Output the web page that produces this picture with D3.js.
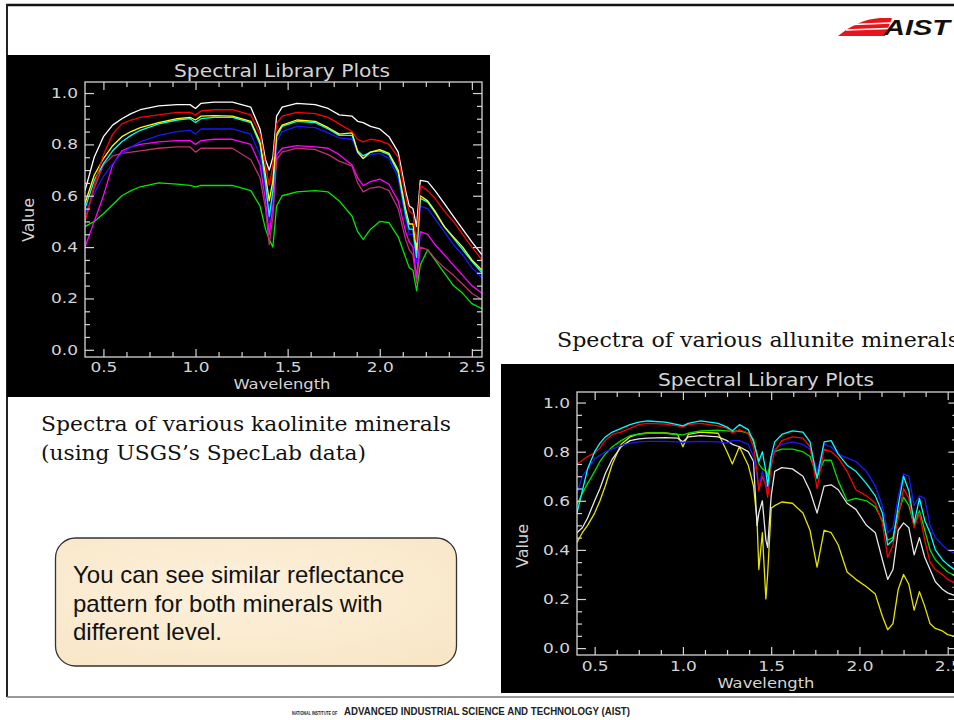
<!DOCTYPE html>
<html>
<head>
<meta charset="utf-8">
<script src="https://cdn.jsdelivr.net/npm/d3@7"></script>
<style>
  html, body { margin: 0; padding: 0; background: #fff; }
  svg { display: block; }
</style>
</head>
<body>
<svg id="slide" width="954" height="720"></svg>
<script>
// ---------- Kaolinite spectra (USGS SpecLab) ----------
const kaoliniteWavelength = [0.40, 0.45, 0.50, 0.55, 0.60, 0.65, 0.70, 0.80, 0.90, 0.97, 1.00, 1.03, 1.10, 1.20, 1.30, 1.35, 1.38, 1.40, 1.42, 1.44, 1.47, 1.55, 1.65, 1.72, 1.78, 1.85, 1.88, 1.91, 1.95, 2.00, 2.05, 2.10, 2.14, 2.16, 2.18, 2.20, 2.22, 2.26, 2.30, 2.35, 2.40, 2.45, 2.50, 2.555];
const kaoliniteWhite   = [0.62, 0.75, 0.83, 0.875, 0.90, 0.92, 0.935, 0.95, 0.955, 0.955, 0.94, 0.96, 0.965, 0.965, 0.945, 0.86, 0.74, 0.70, 0.75, 0.91, 0.945, 0.96, 0.955, 0.94, 0.915, 0.91, 0.89, 0.885, 0.87, 0.86, 0.83, 0.77, 0.62, 0.56, 0.55, 0.48, 0.66, 0.655, 0.62, 0.57, 0.52, 0.47, 0.42, 0.37];
const kaoliniteRed     = [0.50, 0.64, 0.76, 0.84, 0.88, 0.895, 0.905, 0.915, 0.925, 0.925, 0.915, 0.93, 0.935, 0.935, 0.915, 0.84, 0.72, 0.64, 0.72, 0.88, 0.91, 0.925, 0.92, 0.905, 0.88, 0.85, 0.82, 0.81, 0.82, 0.815, 0.80, 0.75, 0.60, 0.54, 0.53, 0.42, 0.64, 0.62, 0.59, 0.54, 0.50, 0.45, 0.40, 0.35];
const kaoliniteYellow  = [0.57, 0.68, 0.745, 0.795, 0.83, 0.85, 0.865, 0.885, 0.90, 0.905, 0.895, 0.91, 0.912, 0.91, 0.89, 0.81, 0.68, 0.58, 0.66, 0.84, 0.875, 0.895, 0.89, 0.865, 0.84, 0.845, 0.77, 0.745, 0.77, 0.78, 0.765, 0.70, 0.55, 0.49, 0.49, 0.39, 0.60, 0.58, 0.54, 0.48, 0.44, 0.40, 0.35, 0.31];
const kaoliniteCyan    = [0.55, 0.66, 0.725, 0.775, 0.81, 0.835, 0.855, 0.88, 0.895, 0.90, 0.885, 0.90, 0.905, 0.905, 0.885, 0.80, 0.65, 0.52, 0.62, 0.83, 0.87, 0.89, 0.885, 0.86, 0.835, 0.835, 0.775, 0.755, 0.77, 0.775, 0.76, 0.69, 0.53, 0.47, 0.47, 0.36, 0.59, 0.575, 0.535, 0.48, 0.435, 0.39, 0.345, 0.30];
const kaoliniteBlue    = [0.53, 0.61, 0.675, 0.725, 0.765, 0.79, 0.81, 0.835, 0.85, 0.855, 0.84, 0.86, 0.86, 0.86, 0.84, 0.76, 0.62, 0.50, 0.60, 0.81, 0.85, 0.87, 0.865, 0.845, 0.825, 0.82, 0.765, 0.745, 0.76, 0.765, 0.745, 0.67, 0.51, 0.45, 0.45, 0.34, 0.56, 0.55, 0.51, 0.46, 0.41, 0.37, 0.32, 0.28];
const kaoliniteMagenta = [0.40, 0.50, 0.60, 0.72, 0.775, 0.79, 0.80, 0.81, 0.815, 0.815, 0.80, 0.815, 0.82, 0.82, 0.80, 0.72, 0.58, 0.45, 0.56, 0.76, 0.785, 0.795, 0.79, 0.785, 0.76, 0.72, 0.67, 0.64, 0.655, 0.665, 0.645, 0.58, 0.46, 0.42, 0.40, 0.28, 0.46, 0.45, 0.41, 0.37, 0.33, 0.29, 0.25, 0.22];
const kaoliniteMaroon  = [0.50, 0.63, 0.72, 0.755, 0.765, 0.77, 0.775, 0.785, 0.79, 0.79, 0.77, 0.785, 0.785, 0.785, 0.74, 0.67, 0.55, 0.41, 0.52, 0.74, 0.77, 0.785, 0.78, 0.76, 0.735, 0.715, 0.65, 0.615, 0.63, 0.635, 0.62, 0.55, 0.43, 0.39, 0.37, 0.26, 0.40, 0.39, 0.355, 0.32, 0.29, 0.255, 0.22, 0.195];
const kaoliniteGreen   = [0.48, 0.50, 0.53, 0.565, 0.60, 0.62, 0.635, 0.65, 0.645, 0.64, 0.635, 0.64, 0.64, 0.64, 0.62, 0.56, 0.47, 0.43, 0.40, 0.56, 0.60, 0.615, 0.62, 0.615, 0.58, 0.52, 0.46, 0.43, 0.47, 0.50, 0.495, 0.44, 0.36, 0.32, 0.31, 0.23, 0.33, 0.39, 0.35, 0.30, 0.25, 0.22, 0.18, 0.16];

// ---------- Allunite spectra ----------
const alluniteWavelength = [0.40, 0.43, 0.46, 0.50, 0.53, 0.56, 0.60, 0.65, 0.70, 0.75, 0.80, 0.90, 0.97, 1.00, 1.03, 1.10, 1.20, 1.25, 1.28, 1.32, 1.37, 1.40, 1.42, 1.43, 1.45, 1.47, 1.48, 1.50, 1.52, 1.56, 1.62, 1.68, 1.72, 1.76, 1.80, 1.84, 1.88, 1.93, 1.98, 2.04, 2.09, 2.13, 2.16, 2.19, 2.22, 2.25, 2.28, 2.31, 2.34, 2.37, 2.40, 2.43, 2.47, 2.50, 2.555];
const alluniteRed    = [0.75, 0.765, 0.78, 0.795, 0.815, 0.845, 0.87, 0.88, 0.895, 0.91, 0.915, 0.912, 0.905, 0.90, 0.91, 0.915, 0.905, 0.895, 0.875, 0.89, 0.875, 0.82, 0.72, 0.64, 0.70, 0.66, 0.615, 0.74, 0.80, 0.845, 0.86, 0.855, 0.82, 0.65, 0.81, 0.80, 0.775, 0.72, 0.645, 0.62, 0.59, 0.51, 0.37, 0.42, 0.53, 0.65, 0.61, 0.49, 0.55, 0.44, 0.35, 0.32, 0.30, 0.28, 0.26];
const alluniteCyan   = [0.55, 0.64, 0.73, 0.80, 0.835, 0.86, 0.88, 0.895, 0.91, 0.92, 0.925, 0.92, 0.91, 0.905, 0.915, 0.925, 0.915, 0.90, 0.885, 0.91, 0.89, 0.84, 0.79, 0.76, 0.80, 0.72, 0.66, 0.78, 0.84, 0.87, 0.885, 0.88, 0.84, 0.69, 0.84, 0.845, 0.79, 0.745, 0.72, 0.67, 0.62, 0.55, 0.42, 0.44, 0.58, 0.70, 0.64, 0.51, 0.61, 0.52, 0.47, 0.40, 0.36, 0.34, 0.31];
const alluniteBlue   = [0.63, 0.70, 0.73, 0.77, 0.785, 0.80, 0.81, 0.825, 0.835, 0.84, 0.842, 0.842, 0.84, 0.838, 0.84, 0.842, 0.84, 0.835, 0.845, 0.845, 0.83, 0.78, 0.70, 0.65, 0.72, 0.67, 0.63, 0.77, 0.81, 0.83, 0.84, 0.83, 0.81, 0.72, 0.83, 0.82, 0.79, 0.775, 0.76, 0.72, 0.66, 0.58, 0.47, 0.49, 0.62, 0.71, 0.70, 0.58, 0.62, 0.61, 0.50, 0.45, 0.42, 0.40, 0.38];
const alluniteGreen  = [0.585, 0.63, 0.67, 0.72, 0.76, 0.79, 0.82, 0.845, 0.865, 0.872, 0.875, 0.875, 0.87, 0.868, 0.875, 0.885, 0.888, 0.885, 0.883, 0.885, 0.876, 0.85, 0.78, 0.75, 0.73, 0.72, 0.70, 0.78, 0.80, 0.81, 0.81, 0.80, 0.78, 0.70, 0.765, 0.765, 0.68, 0.60, 0.61, 0.60, 0.575, 0.52, 0.44, 0.45, 0.55, 0.615, 0.58, 0.50, 0.56, 0.48, 0.40, 0.36, 0.33, 0.31, 0.29];
const alluniteWhite  = [0.47, 0.49, 0.53, 0.60, 0.65, 0.71, 0.77, 0.82, 0.845, 0.852, 0.855, 0.857, 0.855, 0.84, 0.86, 0.865, 0.86, 0.845, 0.83, 0.82, 0.80, 0.76, 0.50, 0.55, 0.60, 0.44, 0.41, 0.62, 0.72, 0.735, 0.73, 0.70, 0.64, 0.55, 0.66, 0.665, 0.645, 0.59, 0.565, 0.50, 0.47, 0.36, 0.28, 0.32, 0.48, 0.51, 0.49, 0.38, 0.45, 0.37, 0.32, 0.27, 0.24, 0.225, 0.21];
const alluniteYellow = [0.43, 0.47, 0.50, 0.55, 0.60, 0.66, 0.75, 0.83, 0.86, 0.872, 0.876, 0.876, 0.87, 0.82, 0.87, 0.88, 0.875, 0.80, 0.75, 0.82, 0.745, 0.66, 0.52, 0.32, 0.47, 0.20, 0.30, 0.57, 0.58, 0.595, 0.59, 0.55, 0.48, 0.33, 0.48, 0.47, 0.42, 0.31, 0.28, 0.25, 0.22, 0.13, 0.075, 0.10, 0.24, 0.30, 0.26, 0.155, 0.23, 0.17, 0.10, 0.08, 0.07, 0.055, 0.045];

// ---------- Axis ticks ----------
const xTicks = [0.5, 1.0, 1.5, 2.0, 2.5];
const xTickLabels = ["0.5", "1.0", "1.5", "2.0", "2.5"];
const yTicks = [0.0, 0.2, 0.4, 0.6, 0.8, 1.0];
const yTickLabels = ["0.0", "0.2", "0.4", "0.6", "0.8", "1.0"];
const xMinorTicks = [0.625, 0.75, 0.875, 1.125, 1.25, 1.375, 1.625, 1.75, 1.875, 2.125, 2.25, 2.375];
const yMinorTicks = [0.05, 0.1, 0.15, 0.25, 0.3, 0.35, 0.45, 0.5, 0.55, 0.65, 0.7, 0.75, 0.85, 0.9, 0.95];

const xDomain = [0.4, 2.555];
const yDomain = [-0.028, 1.043];

const kaoliniteSeries = [
  { color: "#ffffff", values: kaoliniteWhite },
  { color: "#00e800", values: kaoliniteGreen },
  { color: "#b8336a", values: kaoliniteMaroon },
  { color: "#ff00ff", values: kaoliniteMagenta },
  { color: "#1818ff", values: kaoliniteBlue },
  { color: "#00ffff", values: kaoliniteCyan },
  { color: "#ffff00", values: kaoliniteYellow },
  { color: "#ff0000", values: kaoliniteRed }
];
const alluniteSeries = [
  { color: "#e4e400", values: alluniteYellow },
  { color: "#e6e6e6", values: alluniteWhite },
  { color: "#00e000", values: alluniteGreen },
  { color: "#1818ff", values: alluniteBlue },
  { color: "#ff0000", values: alluniteRed },
  { color: "#00ffff", values: alluniteCyan }
];

const svg = d3.select("#slide");
const defs = svg.append("defs");

// ---------- Slide frame ----------
svg.append("rect").attr("width", 954).attr("height", 720).attr("fill", "#ffffff");
svg.append("line").attr("x1", 6).attr("x2", 954).attr("y1", 5).attr("y2", 5)
  .attr("stroke", "#111").attr("stroke-width", 2.5);
svg.append("line").attr("x1", 7).attr("x2", 7).attr("y1", 4).attr("y2", 697)
  .attr("stroke", "#222").attr("stroke-width", 2);
svg.append("line").attr("x1", 7).attr("x2", 954).attr("y1", 697).attr("y2", 697)
  .attr("stroke", "#777").attr("stroke-width", 1.6);

// AIST logo
const logo = svg.append("g");
logo.append("path")
  .attr("d", "M838,36 C850,26 864,19 880,18 L892,18 L885,36 Z")
  .attr("fill", "#e8141c");
logo.append("path")
  .attr("d", "M846,30 L888,28.5 M853,24.5 L890,23")
  .attr("stroke", "#fff").attr("stroke-width", 1.6).attr("fill", "none");
logo.append("text")
  .attr("x", 884).attr("y", 34.5)
  .attr("font-family", "Liberation Sans, Arial, sans-serif")
  .attr("font-weight", "bold").attr("font-style", "italic")
  .attr("font-size", 22).attr("fill", "#111")
  .attr("textLength", 66).attr("lengthAdjust", "spacingAndGlyphs")
  .text("AIST");

// Footer: condensed small caps prefix followed by the institute name
svg.append("text")
  .attr("transform", "translate(292,714.5) scale(0.62,1)")
  .attr("font-family", "Liberation Sans, Arial, sans-serif")
  .attr("font-weight", "bold").attr("fill", "#222").attr("font-size", 6)
  .text("NATIONAL INSTITUTE OF");
svg.append("text")
  .attr("x", 344).attr("y", 715)
  .attr("font-family", "Liberation Sans, Arial, sans-serif")
  .attr("font-weight", "bold").attr("fill", "#222").attr("font-size", 10.5)
  .attr("textLength", 286).attr("lengthAdjust", "spacingAndGlyphs")
  .text("ADVANCED INDUSTRIAL SCIENCE AND TECHNOLOGY (AIST)");

// ---------- Spectral plot panel ----------
function drawPanel(opts) {
  const g = svg.append("g");
  g.append("rect")
    .attr("x", opts.bg[0]).attr("y", opts.bg[1])
    .attr("width", opts.bg[2]).attr("height", opts.bg[3])
    .attr("fill", "#000");

  const x = d3.scaleLinear().domain(xDomain).range([opts.left, opts.right]);
  const y = d3.scaleLinear().domain(yDomain).range([opts.bottom, opts.top]);
  const axisColor = "#d4d4d4";
  const font = "DejaVu Sans, Verdana, sans-serif";

  const clipId = "clip-" + opts.id;
  defs.append("clipPath").attr("id", clipId)
    .append("rect")
    .attr("x", opts.left).attr("y", opts.top)
    .attr("width", opts.right - opts.left).attr("height", opts.bottom - opts.top);

  // spectra
  const line = d3.line().x(d => x(d[0])).y(d => y(d[1]));
  g.append("g").attr("clip-path", `url(#${clipId})`)
    .selectAll("path")
    .data(opts.series)
    .join("path")
    .attr("d", s => line(opts.wavelength.map((w, i) => [w, s.values[i]])))
    .attr("fill", "none")
    .attr("stroke", s => s.color)
    .attr("stroke-width", 1.3)
    .attr("stroke-linejoin", "round");

  const styleAxis = sel => {
    sel.select(".domain").remove();
    sel.selectAll("line").attr("stroke", axisColor).attr("stroke-width", 1.2);
    sel.selectAll("text")
      .attr("fill", axisColor)
      .attr("font-family", font)
      .attr("font-size", 14)
      .attr("textLength", 27)
      .attr("lengthAdjust", "spacingAndGlyphs");
  };

  // major ticks with labels (ticks point inward)
  g.append("g").attr("transform", `translate(0,${opts.bottom})`)
    .call(d3.axisBottom(x).tickValues(xTicks).tickFormat((d, i) => xTickLabels[i])
      .tickSizeInner(-8).tickSizeOuter(0).tickPadding(opts.xPad))
    .call(styleAxis);
  g.append("g").attr("transform", `translate(${opts.left},0)`)
    .call(d3.axisLeft(y).tickValues(yTicks).tickFormat((d, i) => yTickLabels[i])
      .tickSizeInner(-9).tickSizeOuter(0).tickPadding(7))
    .call(styleAxis);
  g.append("g").attr("transform", `translate(0,${opts.top})`)
    .call(d3.axisTop(x).tickValues(xTicks).tickFormat("").tickSizeInner(-8).tickSizeOuter(0))
    .call(styleAxis);
  g.append("g").attr("transform", `translate(${opts.right},0)`)
    .call(d3.axisRight(y).tickValues(yTicks).tickFormat("").tickSizeInner(-9).tickSizeOuter(0))
    .call(styleAxis);

  // minor ticks
  g.append("g").attr("transform", `translate(0,${opts.bottom})`)
    .call(d3.axisBottom(x).tickValues(xMinorTicks).tickFormat("").tickSizeInner(-5).tickSizeOuter(0))
    .call(styleAxis);
  g.append("g").attr("transform", `translate(0,${opts.top})`)
    .call(d3.axisTop(x).tickValues(xMinorTicks).tickFormat("").tickSizeInner(-5).tickSizeOuter(0))
    .call(styleAxis);
  g.append("g").attr("transform", `translate(${opts.left},0)`)
    .call(d3.axisLeft(y).tickValues(yMinorTicks).tickFormat("").tickSizeInner(-5).tickSizeOuter(0))
    .call(styleAxis);
  g.append("g").attr("transform", `translate(${opts.right},0)`)
    .call(d3.axisRight(y).tickValues(yMinorTicks).tickFormat("").tickSizeInner(-5).tickSizeOuter(0))
    .call(styleAxis);

  // frame
  g.append("rect")
    .attr("x", opts.left).attr("y", opts.top)
    .attr("width", opts.right - opts.left).attr("height", opts.bottom - opts.top)
    .attr("fill", "none").attr("stroke", axisColor).attr("stroke-width", 1.3);

  // title and axis titles
  g.append("text")
    .attr("x", opts.titleX).attr("y", opts.titleY)
    .attr("text-anchor", "middle").attr("fill", axisColor)
    .attr("font-family", font).attr("font-size", 18)
    .attr("textLength", 216).attr("lengthAdjust", "spacingAndGlyphs")
    .text("Spectral Library Plots");
  g.append("text")
    .attr("x", opts.titleX).attr("y", opts.xTitleY)
    .attr("text-anchor", "middle").attr("fill", axisColor)
    .attr("font-family", font).attr("font-size", 14)
    .attr("textLength", 97).attr("lengthAdjust", "spacingAndGlyphs")
    .text("Wavelength");
  g.append("text")
    .attr("transform", `translate(${opts.yTitleX},${opts.yTitleY}) rotate(-90)`)
    .attr("text-anchor", "middle").attr("fill", axisColor)
    .attr("font-family", font).attr("font-size", 15)
    .attr("textLength", 44).attr("lengthAdjust", "spacingAndGlyphs")
    .text("Value");
}

drawPanel({
  id: "kaolinite",
  bg: [7, 55, 483, 342],
  left: 85, right: 482, top: 82, bottom: 357,
  wavelength: kaoliniteWavelength, series: kaoliniteSeries,
  titleX: 282, titleY: 77, xTitleY: 389, xPad: 5,
  yTitleX: 34, yTitleY: 220
});

drawPanel({
  id: "allunite",
  bg: [501, 364, 460, 329],
  left: 577, right: 957.4, top: 392, bottom: 655,
  wavelength: alluniteWavelength, series: alluniteSeries,
  titleX: 766, titleY: 386, xTitleY: 688, xPad: 6,
  yTitleX: 528, yTitleY: 546
});

// ---------- Captions ----------
const serif = "DejaVu Serif, Liberation Serif, serif";
svg.append("text").attr("x", 41).attr("y", 431)
  .attr("font-family", serif).attr("font-size", 21).attr("fill", "#111")
  .attr("textLength", 410).attr("lengthAdjust", "spacingAndGlyphs")
  .text("Spectra of various kaolinite minerals");
svg.append("text").attr("x", 41).attr("y", 460)
  .attr("font-family", serif).attr("font-size", 21).attr("fill", "#111")
  .attr("textLength", 325).attr("lengthAdjust", "spacingAndGlyphs")
  .text("(using USGS\u2019s SpecLab data)");
svg.append("text").attr("x", 557).attr("y", 347)
  .attr("font-family", serif).attr("font-size", 21).attr("fill", "#111")
  .attr("textLength", 402).attr("lengthAdjust", "spacingAndGlyphs")
  .text("Spectra of various allunite minerals");

// ---------- Note box ----------
const grad = defs.append("radialGradient").attr("id", "paper")
  .attr("cx", "45%").attr("cy", "40%").attr("r", "75%");
grad.append("stop").attr("offset", "0%").attr("stop-color", "#fdf1dc");
grad.append("stop").attr("offset", "100%").attr("stop-color", "#f8e6c6");
svg.append("rect")
  .attr("x", 55.5).attr("y", 538).attr("width", 401).attr("height", 128)
  .attr("rx", 20).attr("ry", 20)
  .attr("fill", "url(#paper)").attr("stroke", "#333").attr("stroke-width", 1.3);
const note = ["You can see similar reflectance", "pattern for both minerals with", "different level."];
svg.append("g").selectAll("text").data(note).join("text")
  .attr("x", 73).attr("y", (d, i) => 583 + i * 28.5)
  .attr("font-family", "Liberation Sans, Arial, sans-serif")
  .attr("font-size", 24).attr("fill", "#111")
  .text(d => d);
</script>
</body>
</html>
